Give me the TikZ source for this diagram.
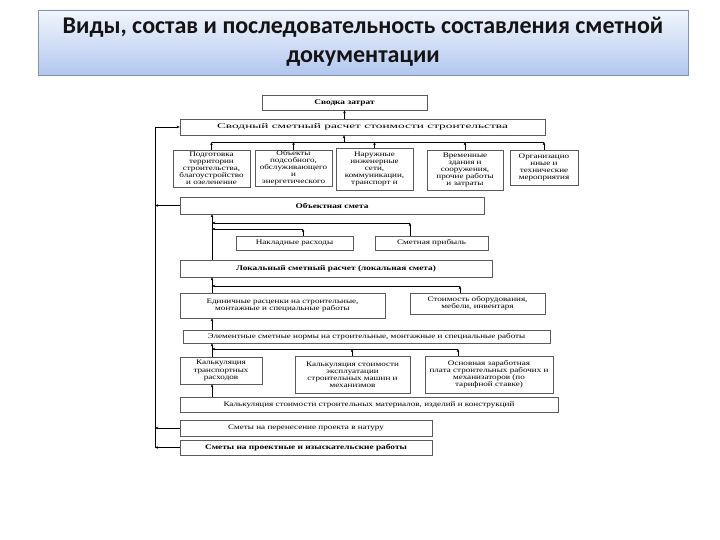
\documentclass[tikz,border=0pt]{standalone}
\usepackage{fontspec}
\setmainfont{Liberation Serif}
\newfontfamily\tfont{Carlito}
\newfontfamily\dfont[FakeStretch=1.3]{Liberation Serif}
\newfontfamily\dfontw[FakeStretch=1.85]{Liberation Serif}
\usetikzlibrary{fit,arrows.meta}
\definecolor{tbtop}{HTML}{F2F6FC}
\definecolor{tbbot}{HTML}{B2C7EF}
\definecolor{tbline}{HTML}{8394B3}
\definecolor{bxline}{HTML}{5A5A5A}
\tikzset{
  box/.style={draw=bxline, line width=0.45pt, inner sep=0pt, align=center,
    font=\dfont\fontsize{7}{7.1}\selectfont},
  boldbox/.style={font=\dfont\bfseries\fontsize{7.2}{7.4}\selectfont},
  widebox/.style={font=\dfontw\fontsize{7.2}{7.4}\selectfont},
  ln/.style={draw=black, line width=0.5pt},
  arr/.style={ln, -{Stealth[length=3.2pt,width=2.6pt]}},
  titlebox/.style={draw=tbline, line width=0.6pt, top color=tbtop, bottom color=tbbot,
    inner sep=0pt},
  titletxt/.style={align=center, text=black!92, font=\tfont\bfseries\fontsize{24}{29.5}\selectfont}
}
\newcommand\mkbox[7]{%
  \node[box,#2,minimum width={(#5-#3)*1pt},minimum height={(#6-#4)*1pt}] (#1) at ({(#3+#5)/2},{(#4+#6)/2}) {#7};}
\begin{document}
\begin{tikzpicture}[x=1pt,y=-1pt]
\useasboundingbox[fill=white] (0,0) rectangle (720,540);
% title
\node[titlebox, fit={(38,10) (688,75)}] (title) {};
\node[titletxt] (titletext) at ([yshift=1pt]title.center) {Виды, состав и последовательность составления сметной\\документации};
% boxes
\mkbox{svodka}{boldbox}{262}{95}{427}{110}{Сводка затрат}
\mkbox{svr}{widebox}{180}{119}{545}{135}{Сводный сметный расчет стоимости строительства}
\mkbox{b1}{}{173}{150}{250}{187}{Подготовка\\территории\\строительства,\\благоустройство\\и озеленение}
\mkbox{b2}{}{255}{150}{332}{186}{Объекты\\подсобного,\\обслуживающего\\и\\энергетического}
\mkbox{b3}{}{336}{148}{413}{190}{Наружные\\инженерные\\сети,\\коммуникации,\\транспорт и}
\mkbox{b4}{}{427}{150}{503}{190}{Временные\\здания и\\сооружения,\\прочие работы\\и затраты}
\mkbox{b5}{}{510}{150}{578}{185}{Организацио\\нные и\\технические\\мероприятия}
\mkbox{obj}{boldbox}{180}{197}{484}{214}{Объектная смета}
\mkbox{nakl}{}{236}{236}{353}{250}{Накладные расходы}
\mkbox{prib}{}{375}{236}{488}{250}{Сметная прибыль}
\mkbox{lok}{boldbox}{180}{260}{492}{277}{Локальный сметный расчет (локальная смета)}
\mkbox{ed}{}{180}{293}{385}{318}{Единичные расценки на строительные,\\монтажные и специальные работы}
\mkbox{stoim}{}{410}{293}{545}{314}{Стоимость оборудования,\\мебели, инвентаря}
\mkbox{elem}{}{183}{330}{550}{343}{Элементные сметные нормы на строительные, монтажные и специальные работы}
\mkbox{kt}{}{180}{357}{262}{384}{Калькуляция\\транспортных\\расходов}
\mkbox{km}{}{295}{356}{410}{393}{Калькуляция стоимости\\эксплуатации\\строительных машин и\\механизмов}
\mkbox{zp}{}{425}{356}{553}{393}{Основная заработная\\плата строительных рабочих и\\механизаторов (по\\тарифной ставке)}
\mkbox{mat}{}{180}{397}{558}{412}{Калькуляция стоимости строительных материалов, изделий и конструкций}
\mkbox{per}{}{180}{420}{432}{436}{Сметы на перенесение проекта в натуру}
\mkbox{proj}{boldbox}{180}{440}{432}{455}{Сметы на проектные и изыскательские работы}
% coordinates
\coordinate (vtop) at (155,127);
\coordinate (vbot) at (155,447.5);
\coordinate (sp) at (212,0);
\coordinate (bus1L) at (212,142);
\coordinate (bus1R) at (544,142);
\coordinate (bus1M) at (344,142);
\coordinate (na) at (303,229);
\coordinate (pr) at (410,223);
\coordinate (st) at (460,286);
\coordinate (km1) at (352,349);
\coordinate (zp1) at (458,349);
% left spine
\draw[ln] (vbot) -- (vtop);
\draw[arr] (vtop) -- (vtop -| svr.west);
\draw[arr] (obj.west) -- (obj.west -| vtop);
\draw[arr] (per.west) -- (per.west -| vtop);
\draw[arr] (proj.west) -- (proj.west -| vtop);
% top
\draw[arr] (svr.north -| svodka.south) -- (svodka.south);
\draw[ln] (bus1L) -- (bus1R);
\draw[arr] (bus1M) -- (bus1M |- svr.south);
\foreach \b in {b1,b2,b3,b4,b5} \draw[arr] (\b.north) -- (\b.north |- bus1L);
% object level
\draw[arr] (lok.north -| sp) -- (obj.south -| sp);
\draw[arr] (nakl.north -| na) -- (na);
\draw[arr] (na) -- (na -| sp);
\draw[arr] (prib.north -| pr) -- (pr);
\draw[arr] (pr) -- (pr -| sp);
% local level
\draw[arr] (ed.north -| sp) -- (lok.south -| sp);
\draw[arr] (stoim.north -| st) -- (st);
\draw[arr] (st) -- (st -| sp);
\draw[arr] (elem.north -| sp) -- (ed.south -| sp);
\draw[arr] (kt.north -| sp) -- (elem.south -| sp);
\draw[arr] (km.north -| km1) -- (km1);
\draw[arr] (zp.north -| zp1) -- (zp1);
\draw[arr] (zp1) -- (zp1 -| sp);
\draw[arr] (mat.north -| sp) -- (kt.south -| sp);
\end{tikzpicture}
\end{document}
